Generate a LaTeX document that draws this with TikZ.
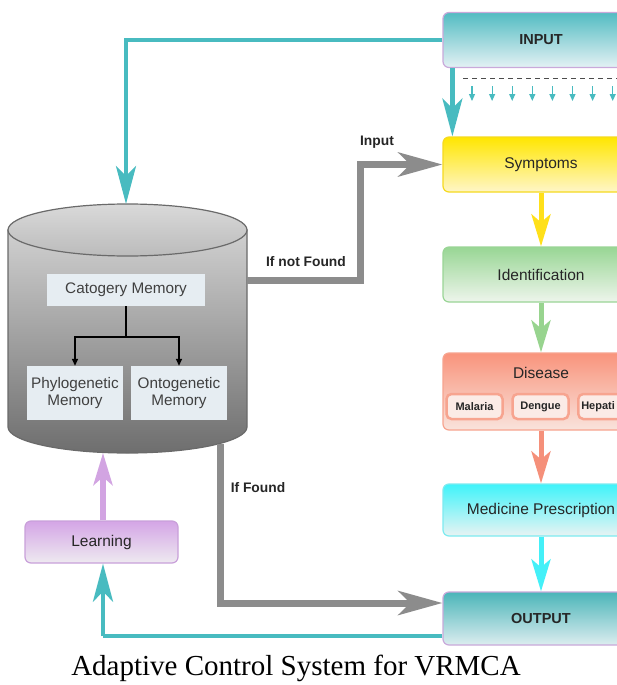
\documentclass[tikz,border=0pt]{standalone}
\usepackage{fontspec}
\setmainfont{Liberation Sans}
\newfontfamily\capfont{Liberation Serif}
\usetikzlibrary{arrows.meta}
\definecolor{tealc}{HTML}{48BBC0}
\definecolor{grayc}{HTML}{8C8C8C}
\definecolor{memfill}{HTML}{E6EDF2}
\definecolor{inTop}{HTML}{52BCC2}
\definecolor{inBot}{HTML}{E4F1F4}
\definecolor{inBrd}{HTML}{C9A9DA}
\definecolor{syTop}{HTML}{FFE600}
\definecolor{syBot}{HTML}{FFF6C8}
\definecolor{syBrd}{HTML}{F5DA20}
\definecolor{idTop}{HTML}{98D694}
\definecolor{idBot}{HTML}{EEF5EC}
\definecolor{idBrd}{HTML}{9AD596}
\definecolor{diTop}{HTML}{F9947C}
\definecolor{diBot}{HTML}{F9E3DC}
\definecolor{diBrd}{HTML}{F7A48F}
\definecolor{meTop}{HTML}{3FF3FA}
\definecolor{meBot}{HTML}{E9F3F3}
\definecolor{meBrd}{HTML}{7DEBF0}
\definecolor{ouTop}{HTML}{4BB5B9}
\definecolor{ouBot}{HTML}{DCEDEF}
\definecolor{leTop}{HTML}{D4A5E6}
\definecolor{leBot}{HTML}{EEEAF0}
\definecolor{leBrd}{HTML}{C9A0DA}
\definecolor{yelA}{HTML}{FFE01A}
\definecolor{grnA}{HTML}{98D48F}
\definecolor{salA}{HTML}{F5907A}
\definecolor{cyaA}{HTML}{44F0F8}
\definecolor{purA}{HTML}{D2A4E2}
\definecolor{cylTop}{HTML}{D0D0D0}
\definecolor{cylBot}{HTML}{6E6E6E}
\definecolor{cylLine}{HTML}{6A6A6A}
\tikzset{
  box/.style={rounded corners=6pt, draw, line width=1.2pt, minimum width=196pt,
    text=black!85, font=\fontsize{15.5}{18}\selectfont, inner sep=0pt},
  memo/.style={fill=memfill, text=black!75, font=\fontsize{15.3}{17.5}\selectfont,
    align=center, inner sep=0pt},
  subbox/.style={rounded corners=5pt, draw=diBrd, line width=2.5pt, fill=diBot!70!white,
    minimum width=56pt, minimum height=25pt, inner sep=0pt,
    font=\bfseries\fontsize{11}{13}\selectfont, text=black!85},
  lbl/.style={font=\bfseries\fontsize{13.8}{16}\selectfont, text=black!85},
  tealar/.style={draw=tealc, line width=4.5pt, -{Stealth[width=20pt,length=38pt,inset=10pt]}},
  tealline/.style={draw=tealc, line width=4.5pt},
  grayar/.style={draw=grayc, line width=7pt, -{Stealth[width=24pt,length=44pt,inset=12pt]}},
  flowar/.style={line width=5pt, -{Stealth[width=19pt,length=32pt,inset=8pt]}},
  treear/.style={draw=black, line width=1.5pt, -{Triangle[width=6pt,length=7pt]}},
}
\begin{document}
\begin{tikzpicture}[x=1pt,y=-1pt]
\clip (0,0) rectangle (617,685);
\fill[white] (0,0) rectangle (617,685);

% right column boxes
\node[box, draw=inBrd, top color=inTop, bottom color=inBot, minimum height=55pt,
  font=\bfseries\fontsize{14.5}{17}\selectfont] (input) at (541,40) {INPUT};
\node[box, draw=syBrd, top color=syTop, bottom color=syBot, minimum height=55pt] (symptoms) at (541,164.5) {Symptoms};
\node[box, draw=idBrd, top color=idTop, bottom color=idBot, minimum height=55pt] (ident) at (541,274.5) {Identification};
\node[box, draw=diBrd, top color=diTop, bottom color=diBot, minimum height=77pt] (disease) at (541,391.5) {};
\node[font=\fontsize{15.5}{18}\selectfont, text=black!85] (dtitle) at (541,373) {Disease};
\node[subbox] (malaria) at (474.5,406.5) {Malaria};
\node[subbox] (dengue) at (540.5,406.5) {Dengue};
\node[subbox, minimum width=50pt, anchor=west, text width=44pt, align=left] (hepat) at (577,406.5) {Hepati};
\node[box, draw=meBrd, top color=meTop, bottom color=meBot, minimum height=52pt] (medicine) at (541,510) {Medicine Prescription};
\node[box, draw=inBrd, top color=ouTop, bottom color=ouBot, minimum height=53pt,
  font=\bfseries\fontsize{14.5}{17}\selectfont] (output) at (541,618.5) {OUTPUT};

% learning
\node[box, draw=leBrd, top color=leTop, bottom color=leBot, minimum width=153pt, minimum height=42pt] (learning) at (101.5,542) {Learning};

% dashed line and small arrows
\draw[black!70, line width=1pt, dash pattern=on 5pt off 4pt] (463,78) -- (617,78);
\foreach \i in {0,...,7}{
  \draw[tealc, line width=1.2pt, -{Triangle[width=6pt,length=7pt]}] (472+20.1*\i,86) -- (472+20.1*\i,101);
}

% cylinder
\shade[top color=cylTop, bottom color=cylBot, draw=cylLine, line width=1.2pt]
  (8,230) -- (8,427) arc[start angle=180, end angle=0, x radius=119.5, y radius=26] -- (247,230) -- cycle;
\shade[top color=cylTop!80!white, bottom color=cylTop!90!black, draw=cylLine, line width=1.2pt]
  (127.5,230) ellipse[x radius=119.5, y radius=26];
\coordinate (cyltop) at (126,204);
\coordinate (cylbot) at (103,453);
\coordinate (cylright) at (247,280);
\coordinate (cylfound) at (220,444);

\node[memo, minimum width=158pt, minimum height=32pt] (cat) at (126,290) {Catogery Memory};
\node[memo, minimum width=96pt, minimum height=54pt] (phylo) at (75,393) {Phylogenetic\\Memory};
\node[memo, minimum width=96pt, minimum height=54pt] (onto) at (179,393) {Ontogenetic\\Memory};
\coordinate (tj) at (126,337);
\draw[black, line width=1.5pt] (cat.south) -- (tj);
\draw[treear] (tj) -| (phylo.north);
\draw[treear] (tj) -| (onto.north);

% teal connectors
\draw[tealar] (input.west) -| (cyltop);
\draw[tealar] ([xshift=10pt]input.south west) -- ([xshift=10pt]symptoms.north west);
\coordinate (lcorner) at (103,636);
\draw[tealline] (output.west |- lcorner) -- (lcorner);
\draw[tealar] (lcorner) -- (learning.south -| lcorner);
\draw[flowar, draw=purA, line width=5.5pt] (learning.north -| cylbot) -- (cylbot);

% flow arrows
\draw[flowar, draw=yelA] (symptoms.south) -- (ident.north);
\draw[flowar, draw=grnA] (ident.south) -- (disease.north);
\draw[flowar, draw=salA] (disease.south) -- (medicine.north);
\draw[flowar, draw=cyaA] (medicine.south) -- (output.north);

% gray connectors
\coordinate (nfcorner) at (360,280);
\draw[grayar] (cylright) -- (nfcorner) |- (symptoms.west);
\coordinate (fcorner) at (220,603);
\draw[grayar] (cylfound) -- (fcorner) -- (output.west |- fcorner);

% labels
\node[lbl] (lnf) at (306,262) {If not Found};
\node[lbl] (lin) at (377,142) {Input};
\node[lbl] (lf) at (258,488) {If Found};

% caption
\node[font=\capfont\fontsize{29}{32}\selectfont, text=black] (caption) at (296,668) {Adaptive Control System for VRMCA};
\end{tikzpicture}
\end{document}
